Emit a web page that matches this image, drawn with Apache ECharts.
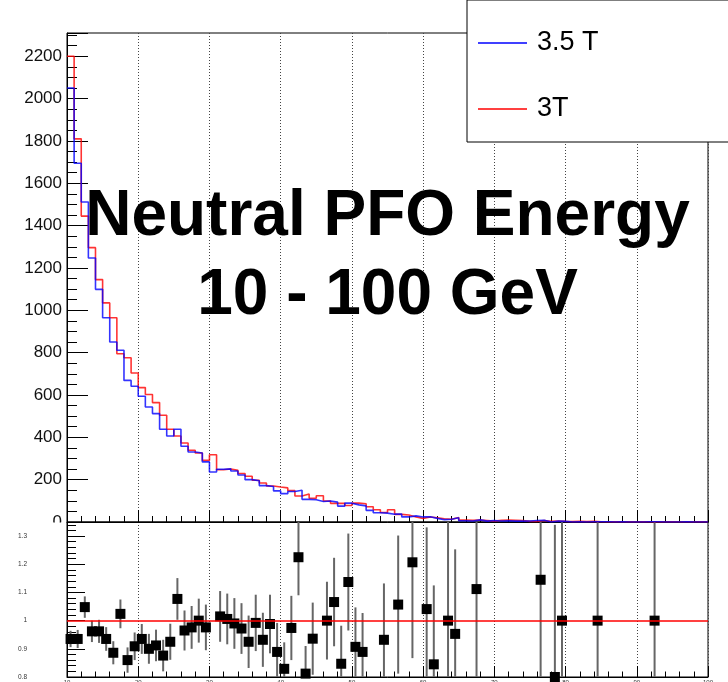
<!DOCTYPE html>
<html>
<head>
<meta charset="utf-8">
<script src="https://cdn.jsdelivr.net/npm/echarts@6/dist/echarts.min.js"></script>
<style>
  html, body { margin: 0; padding: 0; background: #fff; }
  #chart { width: 728px; height: 682px; }
</style>
</head>
<body>
<div id="chart"></div>
<script>
// Neutral PFO energy spectrum, 1 GeV bins from 10 to 100 GeV
const energyMin = 10;
const energyMax = 100;
const binWidth = 1;

// 3T field: entries per bin
const counts3T = [
  2200, 1810, 1445, 1296, 1145, 1035, 965, 795, 776, 704,
  635, 602, 564, 504, 438, 406, 373, 339, 326, 291,
  318, 247, 250, 244, 229, 216, 197, 184, 170, 165,
  161, 148, 123, 132, 112, 124, 99, 88, 88, 78,
  89, 86, 72, 58, 45, 58, 36, 33, 24, 17,
  24, 20, 15, 13, 21, 9, 8, 9, 7, 4,
  8, 9, 8, 7, 3, 3, 7, 3, 5, 3,
  2, 3, 2, 3, 1, 0, 1, 0, 1, 0,
  1, 0, 1, 0, 1, 0, 0, 0, 1, 0
];

// 3.5 T field: entries per bin
const counts35T = [
  2050, 1695, 1512, 1247, 1099, 965, 850, 811, 669, 641,
  594, 543, 512, 438, 406, 438, 358, 331, 326, 284,
  236, 249, 251, 241, 222, 200, 195, 172, 168, 147,
  134, 144, 150, 107, 105, 97, 99, 94, 75, 89,
  81, 76, 55, 44, 42, 37, 38, 24, 29, 24,
  25, 17, 11, 13, 20, 6, 5, 10, 4, 7,
  5, 6, 4, 4, 5, 7, 8, 0, 4, 3,
  0, 1, 0, 1, 1, 1, 0, 1, 0, 0,
  0, 1, 1, 0, 0, 0, 1, 0, 0, 0
];

// Ratio 3.5 T / 3T per bin (null: not shown in the ratio window)
const ratioValues = [
  0.935, 0.935, 1.048, 0.962, 0.962, 0.935, 0.886, 1.024, 0.860, 0.909,
  0.935, 0.900, 0.912, 0.876, 0.925, 1.077, 0.965, 0.976, 1.000, 0.976,
  null, 1.015, 1.006, 0.990, 0.972, 0.925, 0.992, 0.932, 0.988, 0.889,
  0.829, 0.974, 1.225, 0.812, 0.936, null, 1.000, 1.066, 0.847, 1.137,
  0.907, 0.889, null, null, 0.932, null, 1.057, null, 1.207, null,
  1.041, 0.845, null, 1.000, 0.953, null, null, 1.112, null, null,
  null, null, null, null, null, null, 1.145, null, 0.800, 1.000,
  null, null, null, null, 1.000, null, null, null, null, null,
  null, null, 1.000, null, null, null, null, null, null, null
];

// Uncertainty on the ratio per bin
const ratioErrors = [
  0.029, 0.032, 0.038, 0.038, 0.041, 0.042, 0.041, 0.051, 0.045, 0.049,
  0.053, 0.053, 0.056, 0.056, 0.064, 0.074, 0.071, 0.076, 0.078, 0.081,
  null, 0.090, 0.090, 0.090, 0.090, 0.093, 0.100, 0.096, 0.104, 0.103,
  0.094, 0.114, 0.135, 0.098, 0.128, null, 0.138, 0.157, 0.135, 0.172,
  0.140, 0.138, null, null, 0.200, null, 0.245, null, 0.340, null,
  0.290, 0.280, null, 0.390, 0.300, null, null, 0.480, null, null,
  null, null, null, null, null, null, 0.590, null, 0.540, 0.820,
  null, null, null, null, 1.400, null, null, null, null, null,
  null, null, 1.400, null, null, null, null, null, null, null
];

const seriesNames = ['3.5 T', '3T'];
const titleLines = ['Neutral PFO Energy', '10 - 100 GeV'];

const countsMax = 2310;
const ratioMin = 0.8;
const ratioMax = 1.35;

const FONT = '"Liberation Sans", Arial, Helvetica, sans-serif';

// Step outline of a histogram: one point on each bin's lower edge plus the last upper edge
function histogramOutline(counts) {
  const pts = counts.map((c, i) => [energyMin + i * binWidth, c]);
  pts.push([energyMin + counts.length * binWidth, counts[counts.length - 1]]);
  return pts;
}

const ratioPoints = [];
const ratioBars = [];
ratioValues.forEach((r, i) => {
  if (r === null) return;
  const centre = energyMin + (i + 0.5) * binWidth;
  ratioPoints.push([centre, r]);
  ratioBars.push([centre, r, ratioErrors[i]]);
});

const plainNumber = v => String(+(+v).toFixed(2));

const chart = echarts.init(document.getElementById('chart'), null, { renderer: 'canvas' });

const tickStyle = { color: '#000', width: 1 };
const dotted = { type: [1, 2], color: '#444', width: 1 };

chart.setOption({
  animation: false,
  backgroundColor: '#fff',
  grid: [
    { left: 67, right: 20, top: 33, height: 489, show: true, borderColor: '#000', borderWidth: 1,
      backgroundColor: 'transparent', outerBoundsMode: 'none' },
    { left: 67, right: 20, top: 522, height: 155, show: true, borderColor: '#000', borderWidth: 1,
      backgroundColor: 'transparent', outerBoundsMode: 'none' }
  ],
  xAxis: [
    {
      gridIndex: 0, type: 'value', min: energyMin, max: energyMax, interval: 10,
      axisLine: { show: true, lineStyle: tickStyle },
      axisTick: { show: true, inside: true, length: 12, lineStyle: tickStyle },
      minorTick: { show: true, splitNumber: 5, length: 6, lineStyle: tickStyle },
      splitLine: { show: true, lineStyle: dotted },
      axisLabel: { show: false }
    },
    {
      gridIndex: 1, type: 'value', min: energyMin, max: energyMax, interval: 10,
      axisLine: { show: true, lineStyle: tickStyle },
      axisTick: { show: true, inside: true, length: 11, lineStyle: tickStyle },
      minorTick: { show: true, splitNumber: 5, length: 5.5, lineStyle: tickStyle },
      splitLine: { show: true, lineStyle: dotted },
      axisLabel: { show: true, fontSize: 6, color: '#333', fontFamily: FONT, margin: 2,
                   formatter: plainNumber }
    }
  ],
  yAxis: [
    {
      gridIndex: 0, type: 'value', min: 0, max: countsMax, interval: 200,
      axisLine: { show: true, lineStyle: tickStyle },
      axisTick: { show: true, inside: true, length: 21, lineStyle: tickStyle },
      minorTick: { show: true, splitNumber: 4, length: 10, lineStyle: tickStyle },
      splitLine: { show: false },
      axisLabel: { fontSize: 17, color: '#111', fontFamily: FONT, margin: 5, showMaxLabel: false,
                   formatter: plainNumber }
    },
    {
      gridIndex: 1, type: 'value', min: ratioMin, max: ratioMax, interval: 0.1,
      axisLine: { show: true, lineStyle: tickStyle },
      axisTick: { show: true, inside: true, length: 18, lineStyle: tickStyle },
      minorTick: { show: true, splitNumber: 5, length: 9, lineStyle: tickStyle },
      splitLine: { show: false },
      axisLabel: { fontSize: 6.5, color: '#333', fontFamily: FONT, margin: 40, showMaxLabel: false,
                   formatter: plainNumber }
    }
  ],
  legend: {
    data: seriesNames,
    orient: 'vertical',
    left: 467, top: 0,
    padding: [23, 140, 13, 11],
    itemGap: 26,
    itemWidth: 49,
    itemHeight: 1.6,
    icon: 'rect',
    borderColor: '#000',
    borderWidth: 1,
    backgroundColor: '#fff',
    selectedMode: false,
    textStyle: { fontSize: 27, fontFamily: FONT, color: '#000', lineHeight: 40, padding: [0, 0, 0, 5] }
  },
  graphic: [
    {
      type: 'text', x: 387.5, y: 217, z: 50,
      style: { text: titleLines[0], align: 'center', verticalAlign: 'middle',
               font: 'bold 64px ' + FONT, fill: '#000' }
    },
    {
      type: 'text', x: 387.5, y: 296, z: 50,
      style: { text: titleLines[1], align: 'center', verticalAlign: 'middle',
               font: 'bold 64px ' + FONT, fill: '#000' }
    },
    // the ratio pad sits over the lower half of the upper pad's "0" label
    {
      type: 'rect', z: 100,
      shape: { x: 0, y: 522.5, width: 66, height: 9 },
      style: { fill: '#fff' }
    }
  ],
  series: [
    {
      name: seriesNames[1], type: 'line', xAxisIndex: 0, yAxisIndex: 0,
      step: 'end', symbol: 'none', showSymbol: false, z: 2,
      color: '#ff0000',
      lineStyle: { color: '#ff0000', width: 1.6, opacity: 0.8 },
      data: histogramOutline(counts3T)
    },
    {
      name: seriesNames[0], type: 'line', xAxisIndex: 0, yAxisIndex: 0,
      step: 'end', symbol: 'none', showSymbol: false, z: 3,
      color: '#0000ff',
      lineStyle: { color: '#0000ff', width: 1.6, opacity: 0.8 },
      data: histogramOutline(counts35T)
    },
    {
      name: 'ratio errors', type: 'custom', xAxisIndex: 1, yAxisIndex: 1, z: 2,
      encode: { x: 0, y: 1 },
      data: ratioBars,
      renderItem: function (params, api) {
        const x = api.value(0), r = api.value(1), e = api.value(2);
        const lo = Math.max(r - e, ratioMin);
        const hi = Math.min(r + e, ratioMax);
        const p1 = api.coord([x, lo]);
        const p2 = api.coord([x, hi]);
        return {
          type: 'line',
          shape: { x1: p1[0], y1: p1[1], x2: p2[0], y2: p2[1] },
          style: { stroke: '#666', lineWidth: 2 }
        };
      },
      markLine: {
        silent: true, symbol: ['none', 'none'], label: { show: false },
        lineStyle: { color: '#ff0000', width: 2, type: 'solid', opacity: 0.75 },
        data: [{ yAxis: 1 }]
      }
    },
    {
      name: 'ratio', type: 'scatter', xAxisIndex: 1, yAxisIndex: 1, z: 4,
      symbol: 'rect', symbolSize: 10, clip: false,
      itemStyle: { color: '#000', opacity: 1 },
      data: ratioPoints
    }
  ]
});
</script>
</body>
</html>
